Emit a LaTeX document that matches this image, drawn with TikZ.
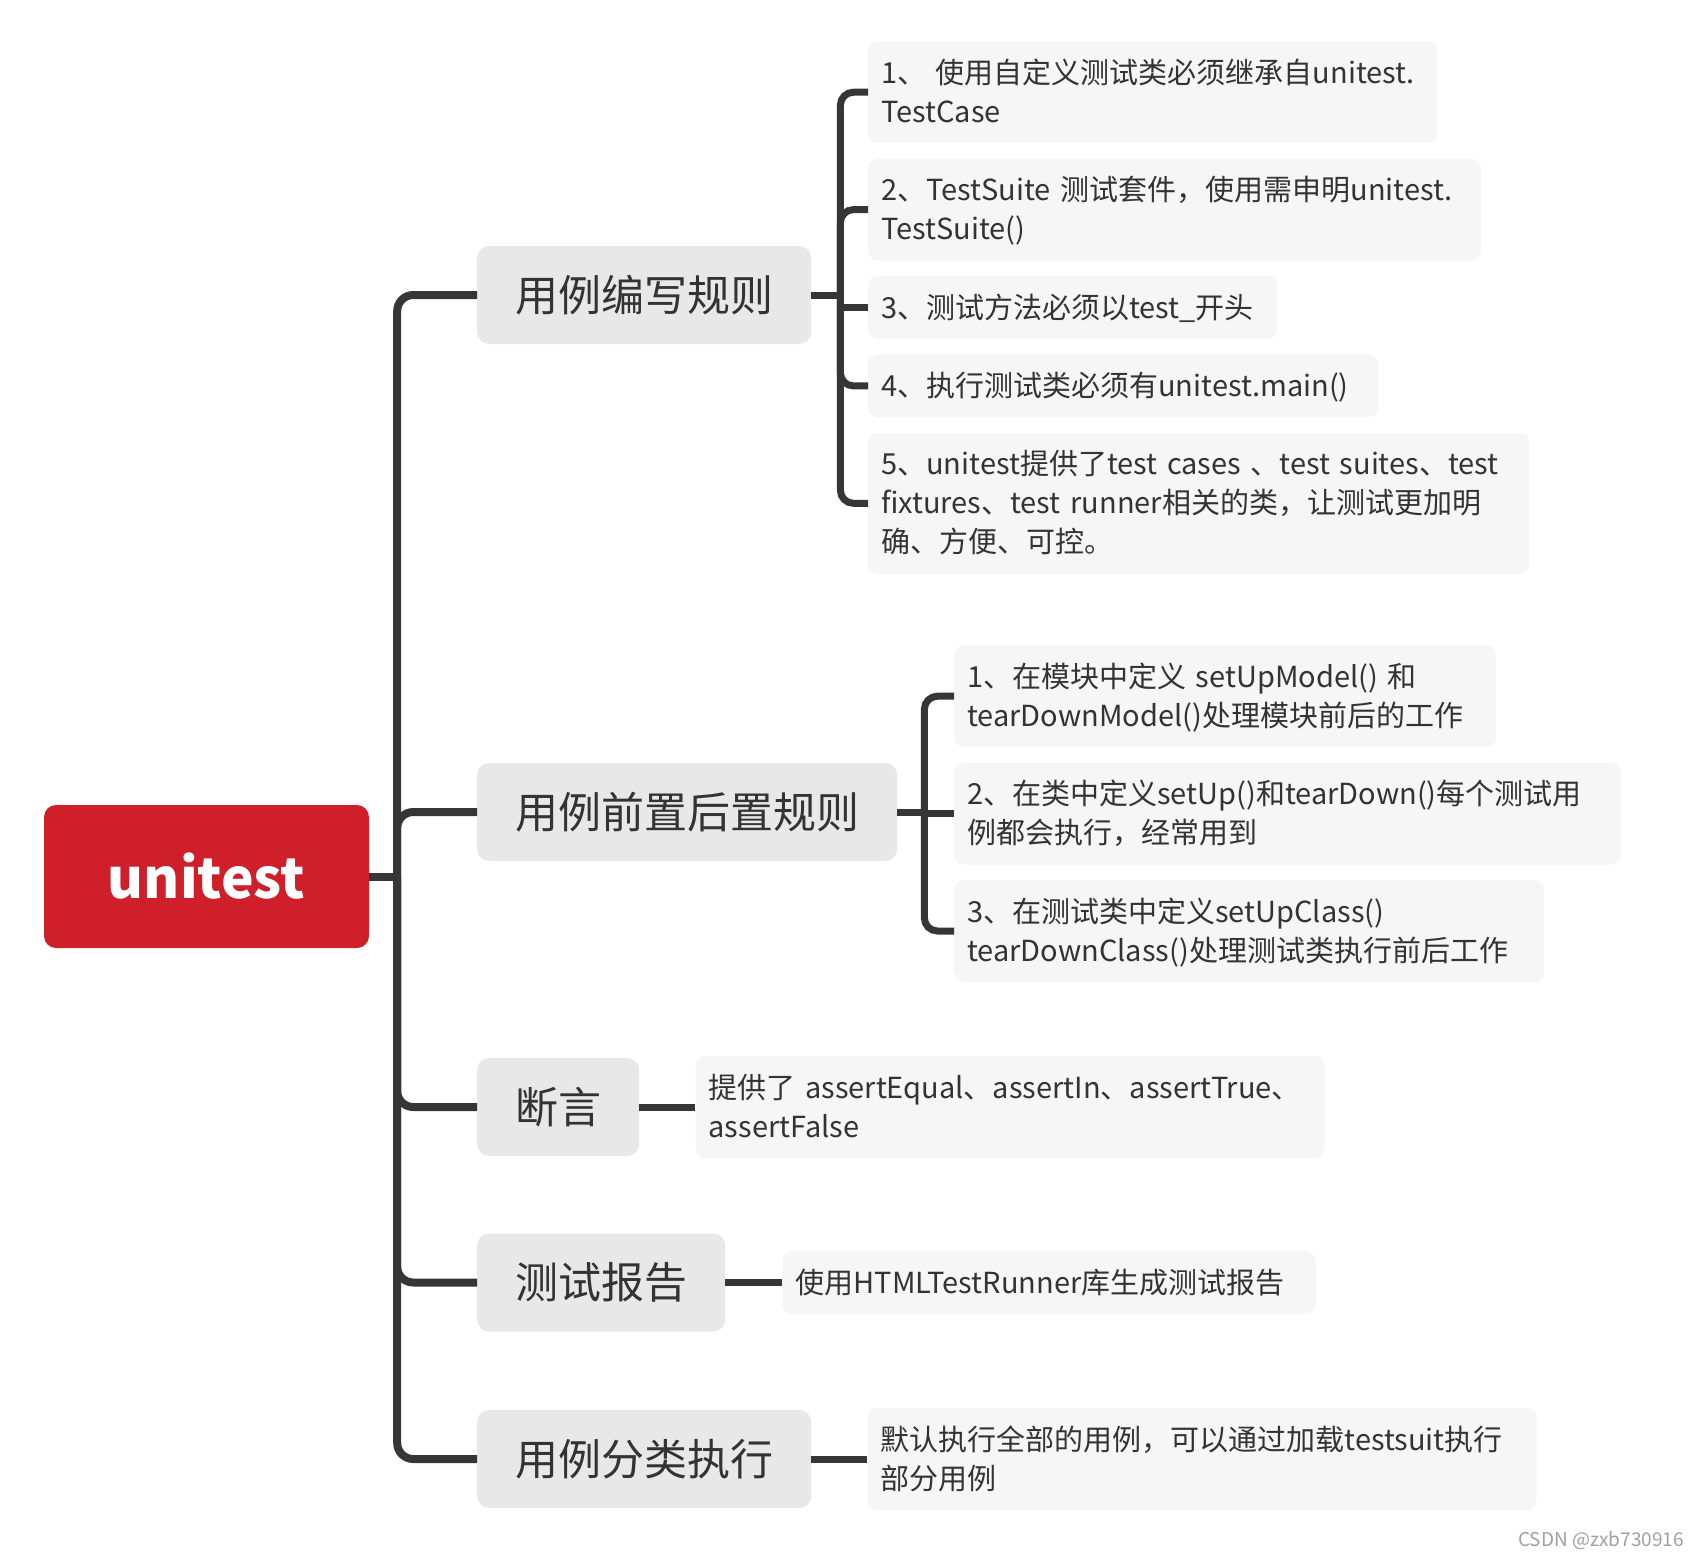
\documentclass[tikz,border=0pt]{standalone}
\usepackage{fontspec}
\setmainfont{Noto Sans CJK SC}
\usepackage{tikz}
\usetikzlibrary{positioning}
\definecolor{RootRed}{HTML}{CE1F2B}
\definecolor{TopicGray}{HTML}{E8E8E8}
\definecolor{LeafGray}{HTML}{F6F6F6}
\definecolor{LineDark}{HTML}{363636}
\definecolor{TextDark}{HTML}{333333}
\definecolor{MarkGray}{HTML}{A0A0A0}
\tikzset{
  rootnode/.style={fill=RootRed,rounded corners=12pt,minimum width=325pt,minimum height=143pt,text=white,font=\fontsize{55pt}{55pt}\selectfont\bfseries},
  topicnode/.style={fill=TopicGray,rounded corners=12pt,minimum height=98pt,inner xsep=38pt,inner ysep=0pt,text=TextDark,font=\fontsize{43pt}{43pt}\selectfont},
  leafnode/.style={fill=LeafGray,rounded corners=10pt,inner xsep=13pt,inner ysep=12pt,align=left,text=TextDark,font=\fontsize{29pt}{39pt}\selectfont,execute at begin node=\rule{0pt}{30pt},execute at end node=\rule[-9pt]{0pt}{9pt}},
  branch/.style={draw=LineDark,line width=8pt,rounded corners=16pt},
  twig/.style={draw=LineDark,line width=7pt,rounded corners=13pt},
  marktext/.style={text=MarkGray,font=\fontsize{19pt}{19pt}\selectfont,inner sep=0pt}
}

\begin{document}
\begin{tikzpicture}[x=1pt,y=-1pt,node distance=15pt and 56pt]
\useasboundingbox (0,0) rectangle (1700,1558);
\node[rootnode] (root) at (206.5,876.5) {unitest};
\node[topicnode,anchor=west] (rules) at (477,295) {用例编写规则};
\node[topicnode,anchor=west] (setup) at (477,812) {用例前置后置规则};
\node[topicnode,anchor=west] (assert) at (477,1107) {断言};
\node[topicnode,anchor=west] (report) at (477,1282.5) {测试报告};
\node[topicnode,anchor=west] (suite) at (477,1459) {用例分类执行};
\node[leafnode,text width=543pt,anchor=north west] (b1) at (868,41) {1、 使用自定义测试类必须继承自unitest.\\TestCase};
\node[leafnode,text width=587pt,below=of b1.south west,anchor=north west] (b2) {2、TestSuite 测试套件，使用需申明unitest.\\TestSuite()};
\node[leafnode,text width=383pt,below=of b2.south west,anchor=north west] (b3) {3、测试方法必须以test\_开头};
\node[leafnode,text width=484pt,below=of b3.south west,anchor=north west] (b4) {4、执行测试类必须有unitest.main()};
\node[leafnode,text width=635pt,below=of b4.south west,anchor=north west] (b5) {5、unitest提供了test cases 、test suites、test\\fixtures、test runner相关的类，让测试更加明\\确、方便、可控。};
\node[leafnode,text width=516pt,anchor=north west] (c1) at (954,645) {1、在模块中定义 setUpModel() 和\\tearDownModel()处理模块前后的工作};
\node[leafnode,text width=641pt,below=of c1.south west,anchor=north west] (c2) {2、在类中定义setUp()和tearDown()每个测试用\\例都会执行，经常用到};
\node[leafnode,text width=564pt,below=of c2.south west,anchor=north west] (c3) {3、在测试类中定义setUpClass()\\tearDownClass()处理测试类执行前后工作};
\node[leafnode,text width=603pt,right=of assert] (d1) {提供了 assertEqual、assertIn、assertTrue、\\assertFalse};
\node[leafnode,text width=507pt,right=57pt of report] (e1) {使用HTMLTestRunner库生成测试报告};
\node[leafnode,text width=643pt,right=of suite] (f1) {默认执行全部的用例，可以通过加载testsuit执行\\部分用例};
\node[marktext,anchor=east] (mark) at (1684,1541) {CSDN @zxb730916};
\coordinate (trunk) at ([xshift=28pt]root.east);
\coordinate (hub1) at ([xshift=29pt]rules.east);
\coordinate (hub2) at ([xshift=27pt]setup.east);
\draw[branch] (root.east) -- (trunk);
\foreach \t in {rules,setup,assert,report,suite}
  \draw[branch] (trunk) |- (\t.west);
\draw[twig] (rules.east) -- (hub1);
\foreach \b in {b1,b2,b4,b5}
  \draw[twig] (hub1) |- (\b.west);
\draw[twig] (hub1 |- b3.west) -- (b3.west);
\draw[twig] (setup.east) -- (hub2);
\foreach \c in {c1,c3}
  \draw[twig] (hub2) |- (\c.west);
\draw[twig] (hub2 |- c2.west) -- (c2.west);
\draw[twig] (assert.east) -- (d1.west);
\draw[twig] (report.east) -- (e1.west);
\draw[twig] (suite.east) -- (f1.west);
\end{tikzpicture}
\end{document}
